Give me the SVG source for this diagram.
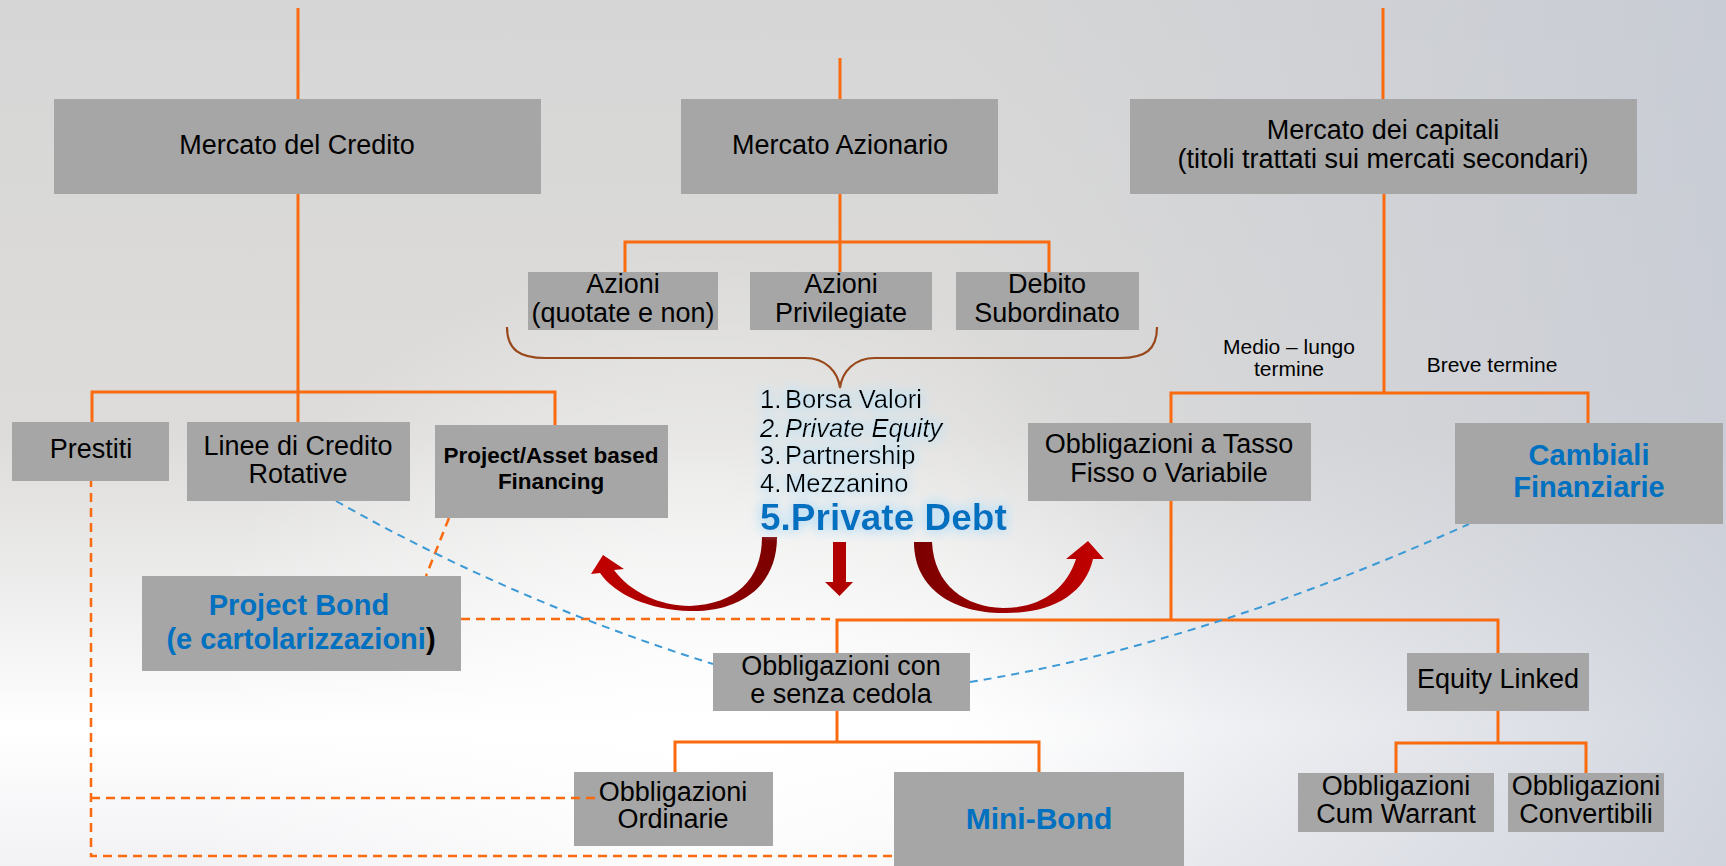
<svg xmlns="http://www.w3.org/2000/svg" width="1726" height="866" viewBox="0 0 1726 866">
<defs>
<linearGradient id="bg" x1="0" y1="0" x2="0" y2="1">
<stop offset="0" stop-color="#d6d6d6"/>
<stop offset="0.5" stop-color="#dddcda"/>
<stop offset="0.72" stop-color="#f1f1f1"/>
<stop offset="0.84" stop-color="#ffffff"/>
<stop offset="1" stop-color="#f2f2f5"/>
</linearGradient>
<linearGradient id="bgR" x1="0" y1="0" x2="1" y2="0">
<stop offset="0.55" stop-color="#c4c9d4" stop-opacity="0"/>
<stop offset="1" stop-color="#c4c9d4" stop-opacity="0.75"/>
</linearGradient>
<radialGradient id="bgW" cx="700" cy="770" r="520" gradientUnits="userSpaceOnUse">
<stop offset="0" stop-color="#ffffff" stop-opacity="0.9"/>
<stop offset="1" stop-color="#ffffff" stop-opacity="0"/>
</radialGradient>
<linearGradient id="arL" x1="0" y1="0" x2="1" y2="0">
<stop offset="0" stop-color="#c40000"/>
<stop offset="1" stop-color="#7a0000"/>
</linearGradient>
<linearGradient id="arR" x1="0" y1="0" x2="1" y2="0">
<stop offset="0" stop-color="#7a0000"/>
<stop offset="1" stop-color="#c40000"/>
</linearGradient>
<filter id="glow" x="-20%" y="-20%" width="140%" height="140%">
<feGaussianBlur in="SourceAlpha" stdDeviation="6" result="b"/>
<feFlood flood-color="#c2e2f4" flood-opacity="1"/>
<feComposite in2="b" operator="in" result="g"/>
<feMerge><feMergeNode in="g"/><feMergeNode in="g"/><feMergeNode in="g"/><feMergeNode in="SourceGraphic"/></feMerge>
</filter>
<style>
.box{fill:#a6a6a6;}
.t{font-family:"Liberation Sans",Arial,sans-serif;font-size:27px;fill:#000;text-anchor:middle;}
.l{font-family:"Liberation Sans",Arial,sans-serif;font-size:25.5px;fill:#000;}
.s{font-size:21px;}
.b{font-weight:bold;}
.blue{fill:#0070c0;}
.ln{fill:none;stroke:#fa6a0e;stroke-width:3;}
.dsh{fill:none;stroke:#fa6a0e;stroke-width:2.5;stroke-dasharray:9 6;}
.bdsh{fill:none;stroke:#3b9ad6;stroke-width:2;stroke-dasharray:8 6;}
</style>
</defs>
<rect x="0" y="0" width="1726" height="866" fill="url(#bg)"/>
<rect x="0" y="0" width="1726" height="866" fill="url(#bgR)"/>
<rect x="0" y="0" width="1726" height="866" fill="url(#bgW)"/>

<g id="connectors">
<path class="ln" d="M298,8 V99"/>
<path class="ln" d="M840,58 V99"/>
<path class="ln" d="M1383,8 V99"/>
<path class="ln" d="M298,194 V422"/>
<path class="ln" d="M92,422 V392 H555 V425"/>
<path class="ln" d="M840,194 V272"/>
<path class="ln" d="M625,272 V242 H1049 V272"/>
<path class="ln" d="M1384,194 V393"/>
<path class="ln" d="M1171,423 V393 H1588 V423"/>
<path class="ln" d="M1171,501 V620"/>
<path class="ln" d="M837,653 V620 H1498 V653"/>
<path class="ln" d="M837,711 V742"/>
<path class="ln" d="M675,772 V742 H1039 V772"/>
<path class="ln" d="M1498,711 V743"/>
<path class="ln" d="M1396,773 V743 H1586 V773"/>
<path class="dsh" d="M91,478 V856 H894"/>
<path class="dsh" d="M461,619 H836"/>
<path class="dsh" d="M449,518 L426,576"/>
<path class="bdsh" d="M336,501 Q515,602 713,664"/>
<path class="bdsh" d="M970,682 Q1200,645 1469,524"/>
<path d="M507,327 C507,350 520,358 545,358 L805,358 C826,358 838,372 840,388 C842,372 854,358 875,358 L1120,358 C1145,358 1157,350 1157,327" fill="none" stroke="#98481a" stroke-width="2.2"/>
<path d="M762,537 L777,537 C777,588 738,612 690,611 C650,610 615,595 600,573 L591,574 L603,555 L624,569 L614,570 C630,592 660,606 690,606 C735,604 762,580 762,537 Z" fill="url(#arL)"/>
<path d="M833,542 H846 V582 H853 L839.5,596 L825,582 H833 Z" fill="#b00000"/>
<path d="M914,542 L932,542 C934,585 965,607 1003,608 C1040,608 1066,590 1076,559 L1066,559 L1088,541 L1104,559 L1093,559 C1085,595 1050,614 1003,613 C955,613 914,590 914,542 Z" fill="url(#arR)"/>
</g>

<g id="mercato-credito"><rect class="box" x="54" y="99" width="487" height="95"/><text class="t" x="297" y="154">Mercato del Credito</text></g>
<g id="mercato-azionario"><rect class="box" x="681" y="99" width="317" height="95"/><text class="t" x="840" y="154">Mercato Azionario</text></g>
<g id="mercato-capitali"><rect class="box" x="1130" y="99" width="507" height="95"/><text class="t" x="1383" y="139">Mercato dei capitali</text><text class="t" x="1383" y="168">(titoli trattati sui mercati secondari)</text></g>

<g id="azioni"><rect class="box" x="528" y="272" width="190" height="58"/><text class="t" x="623" y="293">Azioni</text><text class="t" x="623" y="322">(quotate e non)</text></g>
<g id="azioni-privilegiate"><rect class="box" x="750" y="272" width="182" height="58"/><text class="t" x="841" y="293">Azioni</text><text class="t" x="841" y="322">Privilegiate</text></g>
<g id="debito-subordinato"><rect class="box" x="956" y="272" width="183" height="58"/><text class="t" x="1047" y="293">Debito</text><text class="t" x="1047" y="322">Subordinato</text></g>

<g id="label-medio"><text class="t s" x="1289" y="354">Medio – lungo</text><text class="t s" x="1289" y="376">termine</text></g>
<g id="label-breve"><text class="t s" x="1492" y="372">Breve termine</text></g>

<g id="prestiti"><rect class="box" x="12" y="422" width="157" height="59"/><text class="t" x="91" y="458">Prestiti</text></g>
<g id="linee-credito"><rect class="box" x="187" y="422" width="223" height="79"/><text class="t" x="298" y="455">Linee di Credito</text><text class="t" x="298" y="483">Rotative</text></g>
<g id="project-asset"><rect class="box" x="435" y="425" width="233" height="93"/><text class="t b" style="font-size:22.5px" x="551" y="463">Project/Asset based</text><text class="t b" style="font-size:22.5px" x="551" y="489">Financing</text></g>

<g id="lista" filter="url(#glow)">
<text class="l" x="760" y="408">1.</text><text class="l" x="785" y="408">Borsa Valori</text>
<text class="l" x="760" y="437" font-style="italic">2.</text><text class="l" x="785" y="437" font-style="italic">Private Equity</text>
<text class="l" x="760" y="464">3.</text><text class="l" x="785" y="464">Partnership</text>
<text class="l" x="760" y="492">4.</text><text class="l" x="785" y="492">Mezzanino</text>
<text class="l b" style="font-size:37px;fill:#0070c0" x="760" y="530">5.Private Debt</text>
</g>

<g id="obbligazioni-tasso"><rect class="box" x="1028" y="423" width="283" height="78"/><text class="t" x="1169" y="453">Obbligazioni a Tasso</text><text class="t" x="1169" y="482">Fisso o Variabile</text></g>
<g id="cambiali"><rect class="box" x="1455" y="423" width="268" height="101"/><text class="t b blue" style="font-size:29px" x="1589" y="465">Cambiali</text><text class="t b blue" style="font-size:29px" x="1589" y="497">Finanziarie</text></g>

<g id="project-bond"><rect class="box" x="142" y="576" width="319" height="95"/><text class="t b blue" style="font-size:29px" x="299" y="615">Project Bond</text><text class="t b blue" style="font-size:29px" x="301" y="649">(e cartolarizzazioni<tspan fill="#000">)</tspan></text></g>

<g id="obbligazioni-cedola"><rect class="box" x="713" y="653" width="257" height="58"/><text class="t" x="841" y="675">Obbligazioni con</text><text class="t" x="841" y="703">e senza cedola</text></g>
<g id="equity-linked"><rect class="box" x="1407" y="653" width="182" height="58"/><text class="t" x="1498" y="688">Equity Linked</text></g>

<g id="obbligazioni-ordinarie"><rect class="box" x="574" y="772" width="199" height="74"/><text class="t" x="673" y="801">Obbligazioni</text><text class="t" x="673" y="828">Ordinarie</text></g>
<g id="mini-bond"><rect class="box" x="894" y="772" width="290" height="94"/><text class="t b blue" style="font-size:30px" x="1039" y="829">Mini-Bond</text></g>
<g id="cum-warrant"><rect class="box" x="1298" y="773" width="196" height="59"/><text class="t" x="1396" y="795">Obbligazioni</text><text class="t" x="1396" y="823">Cum Warrant</text></g>
<g id="convertibili"><rect class="box" x="1508" y="773" width="156" height="59"/><text class="t" x="1586" y="795">Obbligazioni</text><text class="t" x="1586" y="823">Convertibili</text></g>

<g id="connector-overlay"><path class="dsh" d="M91,798 H600"/></g>
</svg>
